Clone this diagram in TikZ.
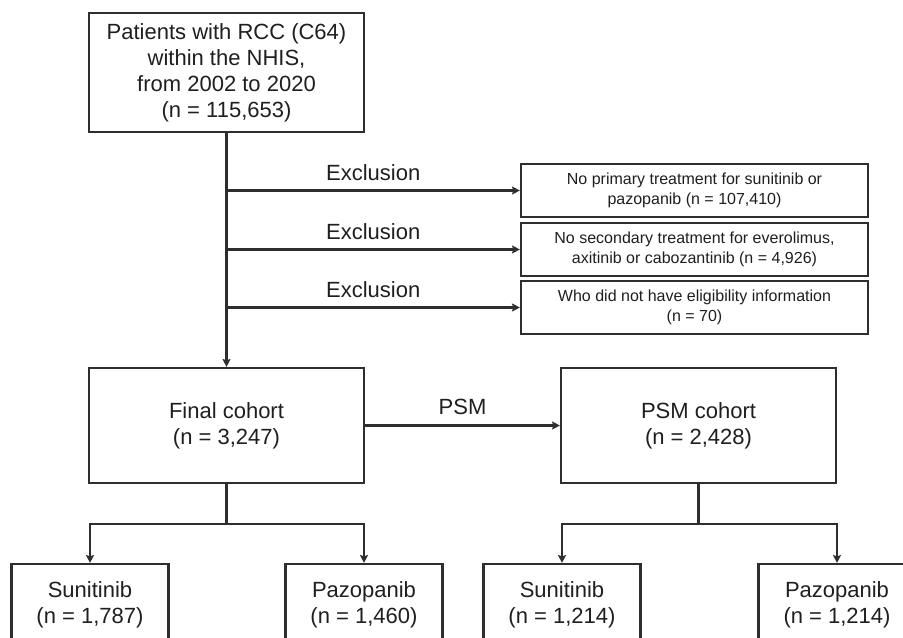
\documentclass[tikz,border=0pt]{standalone}
\usepackage{fontspec}
\setmainfont{Liberation Sans}
\usetikzlibrary{arrows.meta}
\definecolor{ink}{HTML}{2E2E2E}
\tikzset{
  box/.style={draw=ink, line width=2.1bp, rectangle, align=center, text=black!88, inner sep=0pt,
    font=\fontsize{22bp}{26bp}\selectfont},
  smallbox/.style={box, font=\fontsize{16bp}{20bp}\selectfont},
  conn/.style={draw=ink, line width=2.1bp},
  arr/.style={conn, -{Stealth[length=8bp,width=8bp,inset=1.5bp]}},
  lab/.style={text=black!88, font=\fontsize{22bp}{26bp}\selectfont, inner sep=0pt}
}
\begin{document}
\begin{tikzpicture}[x=1bp,y=-1bp]
\useasboundingbox (0,0) rectangle (903,638);
\clip (0,0) rectangle (903,638);
\fill[white] (0,0) rectangle (903,638);

\node[box, minimum width=275bp, minimum height=119bp] (top) at (226.5,72.5)
  {Patients with RCC (C64)\\within the NHIS,\\from 2002 to 2020\\(n = 115,653)};

\node[smallbox, minimum width=347bp, minimum height=53bp] (ex1) at (694.5,190.5)
  {No primary treatment for sunitinib or\\pazopanib (n = 107,410)};
\node[smallbox, minimum width=347bp, minimum height=53bp] (ex2) at (694.5,249.5)
  {No secondary treatment for everolimus,\\axitinib or cabozantinib (n = 4,926)};
\node[smallbox, minimum width=347bp, minimum height=53bp] (ex3) at (694.5,307.5)
  {Who did not have eligibility information\\(n = 70)};

\node[box, minimum width=275bp, minimum height=115bp] (final) at (226.5,425.5)
  {Final cohort\\(n = 3,247)};
\node[box, minimum width=275bp, minimum height=115bp] (psm) at (698.5,425.5)
  {PSM cohort\\(n = 2,428)};

\node[box, minimum width=157bp, minimum height=81bp] (c1) at (90,604.5)
  {Sunitinib\\(n = 1,787)};
\node[box, minimum width=157bp, minimum height=81bp] (c2) at (364,604.5)
  {Pazopanib\\(n = 1,460)};
\node[box, minimum width=157bp, minimum height=81bp] (c3) at (562,604.5)
  {Sunitinib\\(n = 1,214)};
\node[box, minimum width=157bp, minimum height=81bp] (c4) at (837,604.5)
  {Pazopanib\\(n = 1,214)};

% main vertical
\draw[arr] (top.south) -- (final.north);
% exclusions
\foreach \e in {ex1,ex2,ex3}{
  \draw[arr] (top.south |- \e.west) -- node[lab, above=9bp] {Exclusion} (\e.west);
}
% PSM
\draw[arr] (final.east) -- node[lab, above=10bp] {PSM} (psm.west);

% branches
\coordinate (fb) at (226.5,524);
\coordinate (pb) at (698.5,524);
\draw[conn] (final.south) -- (fb);
\draw[arr] (fb) -| (c1.north);
\draw[arr] (fb) -| (c2.north);
\draw[conn] (psm.south) -- (pb);
\draw[arr] (pb) -| (c3.north);
\draw[arr] (pb) -| (c4.north);
\end{tikzpicture}
\end{document}
